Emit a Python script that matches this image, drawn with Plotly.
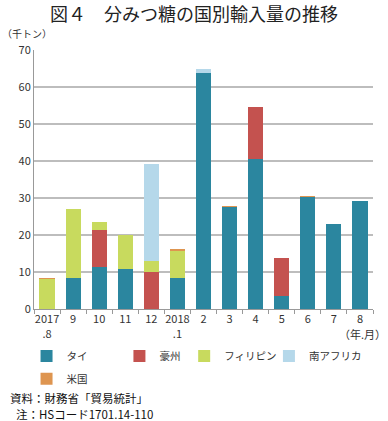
import plotly.graph_objects as go

categories = ["2017<br>.8", "9", "10", "11", "12", "2018<br>.1", "2", "3", "4", "5", "6", "7", "8"]
thai = [0, 8.5, 11.3, 10.8, 0, 8.5, 63.9, 27.6, 40.5, 3.6, 30.3, 23.0, 29.1]
australia = [0, 0, 10.0, 0, 9.9, 0, 0, 0, 14.1, 10.2, 0, 0, 0]
philippines = [8.2, 18.5, 2.2, 9.1, 3.1, 7.3, 0, 0, 0, 0, 0, 0, 0]
south_africa = [0, 0, 0, 0, 26.1, 0, 1.0, 0, 0, 0, 0, 0, 0]
usa = [0.15, 0, 0, 0, 0, 0.15, 0, 0.2, 0, 0, 0.15, 0, 0]

series = [
    ("タイ", thai, "#2B869F"),
    ("豪州", australia, "#C4524F"),
    ("フィリピン", philippines, "#C8DA5E"),
    ("南アフリカ", south_africa, "#B5D8EA"),
    ("米国", usa, "#DE9550"),
]

# one small legend per entry so each can sit where the reference puts it
legend_ids = ["legend", "legend2", "legend3", "legend4", "legend5"]
legend_pos = [(-0.022, -0.125), (0.252, -0.125), (0.443, -0.125), (0.693, -0.125), (-0.022, -0.2138)]

font = "Noto Sans CJK JP, Noto Sans, sans-serif"
fig = go.Figure()
for (name, vals, color), lid in zip(series, legend_ids):
    fig.add_trace(go.Bar(x=categories, y=vals, name=name, legend=lid,
                         marker=dict(color=color, line=dict(width=0))))

legend_layout = {}
for lid, (lx, ly) in zip(legend_ids, legend_pos):
    legend_layout[lid] = dict(orientation="h", x=lx, xanchor="left", y=ly, yanchor="top",
                              font=dict(size=10.5, color="#333333"), itemclick=False,
                              itemdoubleclick=False, bgcolor="rgba(0,0,0,0)")

fig.update_layout(
    barmode="stack",
    bargap=0.42,
    width=388, height=421,
    margin=dict(l=34, r=15, t=50, b=112, autoexpand=False),
    paper_bgcolor="white", plot_bgcolor="white",
    font=dict(family=font, size=11, color="#333333"),
    title=dict(text="図４　分みつ糖の国別輸入量の推移", x=0.5, xanchor="center", y=0.98, yanchor="top",
               font=dict(size=18, color="#222222", family=font)),
    showlegend=True,
    xaxis=dict(type="category", showline=True, linecolor="#999999", linewidth=1,
               ticks="outside", tickson="boundaries", ticklen=4, tickcolor="#999999",
               tickangle=0, tickfont=dict(size=11), showgrid=False),
    yaxis=dict(range=[0, 70], dtick=10, showline=True, linecolor="#999999", linewidth=1,
               gridcolor="#BDBDBD", gridwidth=1.5, tickfont=dict(size=11), ticks="", zeroline=False),
    **legend_layout,
)

fig.add_annotation(text="（千トン）", xref="paper", yref="paper", x=-0.1, y=1.062, xanchor="left", yanchor="middle",
                   showarrow=False, font=dict(size=10, color="#333333"))
fig.add_annotation(text="（年.月）", xref="paper", yref="paper", x=1.044, y=-0.0965, xanchor="right", yanchor="middle",
                   showarrow=False, font=dict(size=11, color="#333333"))
fig.add_annotation(text="資料：財務省「貿易統計」", xref="paper", yref="paper",
                   x=-0.077, y=-0.344, xanchor="left", yanchor="middle", align="left", showarrow=False,
                   font=dict(size=11.5, color="#111111"))
fig.add_annotation(text="注：HSコード1701.14-110", xref="paper", yref="paper",
                   x=-0.059, y=-0.405, xanchor="left", yanchor="middle", align="left", showarrow=False,
                   font=dict(size=11.5, color="#111111"))

fig.write_html("out.html", config={"displayModeBar": False},
               post_script="document.body.style.margin='0';document.body.style.overflow='hidden';")
